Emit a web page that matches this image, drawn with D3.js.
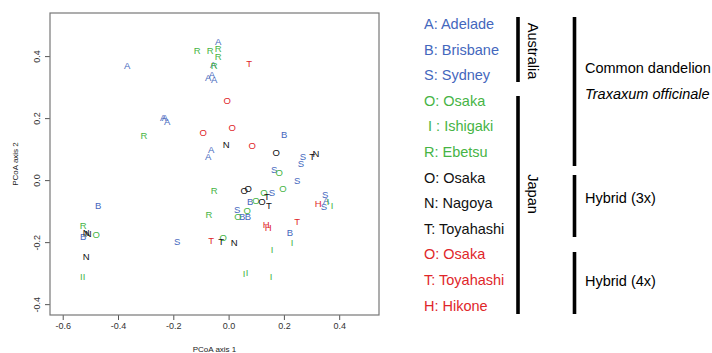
<!DOCTYPE html>
<html>
<head>
<meta charset="utf-8">
<script src="https://cdn.jsdelivr.net/npm/d3@7"></script>
<style>
  body { margin: 0; background: #fff; }
  svg { display: block; font-family: "Liberation Sans", Arial, sans-serif; }
</style>
</head>
<body>
<script>
// point coordinates, [axis1, axis2]
const adelaide = [[-0.367, 0.368], [-0.237, 0.203], [-0.230, 0.200], [-0.222, 0.187],
  [-0.038, 0.448], [-0.056, 0.371], [-0.074, 0.332], [-0.060, 0.339], [-0.052, 0.323],
  [-0.063, 0.097], [-0.074, 0.077], [0.353, -0.065]];
const brisbane = [[-0.472, -0.084], [-0.526, -0.184], [0.201, 0.148], [0.078, -0.068],
  [0.049, -0.119], [0.070, -0.119], [0.222, -0.168]];
const sydney = [[-0.186, -0.197], [0.269, 0.077], [0.262, 0.052], [0.165, 0.035],
  [0.248, -0.003], [0.157, -0.042], [0.031, -0.094], [0.349, -0.048], [0.345, -0.087]];
const osakaG = [[-0.479, -0.177], [0.183, 0.023], [0.197, -0.029], [0.128, -0.039],
  [0.099, -0.065], [0.034, -0.119], [0.067, -0.100], [-0.020, -0.187]];
const ishigaki = [[-0.533, -0.310], [-0.523, -0.313], [0.157, -0.223], [0.230, -0.203],
  [0.056, -0.303], [0.067, -0.297], [0.154, -0.313], [0.374, -0.084], [0.360, -0.071]];
const ebetsu = [[-0.306, 0.142], [-0.114, 0.419], [-0.067, 0.419], [-0.038, 0.423],
  [-0.038, 0.397], [-0.052, 0.368], [-0.052, -0.035], [-0.071, -0.113], [-0.526, -0.148]];
const osaka3 = [[0.172, 0.090], [0.056, -0.035], [0.071, -0.026], [0.121, -0.068]];
const nagoya = [[-0.009, 0.113], [0.316, 0.084], [-0.515, -0.168], [-0.508, -0.174],
  [-0.515, -0.248], [0.020, -0.203]];
const toyahashi3 = [[0.302, 0.077], [0.139, -0.052], [0.146, -0.081], [-0.027, -0.200]];
const osaka4 = [[-0.005, 0.255], [0.013, 0.168], [-0.092, 0.152], [0.085, 0.110]];
const toyahashi4 = [[0.074, 0.374], [-0.063, -0.194], [0.248, -0.135]];
const hikone = [[0.136, -0.145], [0.143, -0.152], [0.324, -0.077]];

const letters = ["A", "B", "S", "O", "I", "R", "O", "N", "T", "O", "T", "H"];
const legendLabels = ["A: Adelade", "B: Brisbane", "S: Sydney", "O: Osaka", " I : Ishigaki",
  "R: Ebetsu", "O: Osaka", "N: Nagoya", "T: Toyahashi", "O: Osaka", "T: Toyahashi", "H: Hikone"];
const groupKind = ["au", "au", "au", "jp", "jp", "jp", "h3", "h3", "h3", "h4", "h4", "h4"];
const pointSets = [adelaide, brisbane, sydney, osakaG, ishigaki, ebetsu,
  osaka3, nagoya, toyahashi3, osaka4, toyahashi4, hikone];

const xTicks = [-0.6, -0.4, -0.2, 0.0, 0.2, 0.4];
const yTicks = [-0.4, -0.2, 0.0, 0.2, 0.4];

const colours = { au: "#4467bd", jp: "#46b445", h3: "#111111", h4: "#e0262a" };

const width = 712, height = 353;
const plot = { left: 50, right: 379, top: 13, bottom: 315 };

const svg = d3.select("body").append("svg")
  .attr("width", width)
  .attr("height", height);

const xScale = d3.scaleLinear().domain([-0.646, 0.544]).range([plot.left, plot.right]);
const yScale = d3.scaleLinear().domain([-0.435, 0.539]).range([plot.bottom, plot.top]);

// axes (box drawn separately)
const xAxis = svg.append("g")
  .attr("transform", "translate(0," + plot.bottom + ")")
  .call(d3.axisBottom(xScale).tickValues(xTicks).tickFormat(d3.format(".1f")).tickSize(5).tickPadding(3));
xAxis.select(".domain").remove();
xAxis.selectAll("line").attr("stroke", "#555");
xAxis.selectAll("text").attr("font-size", 9).attr("fill", "#333")
  .attr("font-family", "Liberation Sans, Arial, sans-serif")
  .text((d) => d3.format(".1f")(d).replace("−", "-"));

const yAxis = svg.append("g")
  .attr("transform", "translate(" + plot.left + ",0)")
  .call(d3.axisLeft(yScale).tickValues(yTicks).tickSize(5).tickFormat(d3.format(".1f")));
yAxis.select(".domain").remove();
yAxis.selectAll("line").attr("stroke", "#555");
yAxis.selectAll("text").remove();
yAxis.selectAll(".tick").append("text")
  .attr("transform", "translate(-10,0) rotate(-90)")
  .attr("text-anchor", "middle")
  .attr("font-size", 9)
  .attr("fill", "#333")
  .attr("font-family", "Liberation Sans, Arial, sans-serif")
  .text((d) => d3.format(".1f")(d).replace("−", "-"));

svg.append("rect")
  .attr("x", plot.left)
  .attr("y", plot.top)
  .attr("width", plot.right - plot.left)
  .attr("height", plot.bottom - plot.top)
  .attr("fill", "none")
  .attr("stroke", "#777")
  .attr("stroke-width", 1.2);

svg.append("text")
  .attr("x", (plot.left + plot.right) / 2)
  .attr("y", 352)
  .attr("text-anchor", "middle")
  .attr("font-size", 8)
  .attr("fill", "#222")
  .text("PCoA axis 1");

svg.append("text")
  .attr("transform", "translate(18," + (plot.top + plot.bottom) / 2 + ") rotate(-90)")
  .attr("text-anchor", "middle")
  .attr("font-size", 8)
  .attr("fill", "#222")
  .text("PCoA axis 2");

// letter markers
pointSets.forEach((pts, i) => {
  svg.append("g").selectAll("text")
    .data(pts)
    .enter()
    .append("text")
    .attr("x", (d) => xScale(d[0]))
    .attr("y", (d) => yScale(d[1]))
    .attr("dy", "0.35em")
    .attr("text-anchor", "middle")
    .attr("font-size", 9.5)
    .attr("fill", colours[groupKind[i]])
    .text(letters[i]);
});

// legend
const legendTop = 24, legendStep = 25.6, legendX = 424;
svg.append("g").selectAll("text")
  .data(legendLabels)
  .enter()
  .append("text")
  .attr("x", legendX)
  .attr("y", (d, i) => legendTop + i * legendStep)
  .attr("dy", "0.35em")
  .attr("font-size", 14.5)
  .attr("fill", (d, i) => colours[groupKind[i]])
  .attr("xml:space", "preserve")
  .style("white-space", "pre")
  .text((d) => d);

function bracket(x, y1, y2) {
  svg.append("line")
    .attr("x1", x).attr("x2", x)
    .attr("y1", y1).attr("y2", y2)
    .attr("stroke", "#000")
    .attr("stroke-width", 3.6);
}

bracket(518, 17, 82);
bracket(518, 96, 314);
bracket(574.5, 17, 166);
bracket(574.5, 175, 237);
bracket(574.5, 252, 314);

svg.append("text")
  .attr("transform", "translate(528,51) rotate(90)")
  .attr("text-anchor", "middle")
  .attr("font-size", 14.5)
  .text("Australia");

svg.append("text")
  .attr("transform", "translate(528,194) rotate(90)")
  .attr("text-anchor", "middle")
  .attr("font-size", 14.5)
  .text("Japan");

const rightX = 585;
svg.append("text").attr("x", rightX).attr("y", 68).attr("dy", "0.35em")
  .attr("font-size", 14.5).text("Common dandelion");
svg.append("text").attr("x", rightX).attr("y", 94).attr("dy", "0.35em")
  .attr("font-size", 14.5).attr("font-style", "italic").text("Traxaxum officinale");
svg.append("text").attr("x", rightX).attr("y", 198).attr("dy", "0.35em")
  .attr("font-size", 14.5).text("Hybrid (3x)");
svg.append("text").attr("x", rightX).attr("y", 281).attr("dy", "0.35em")
  .attr("font-size", 14.5).text("Hybrid (4x)");
</script>
</body>
</html>
